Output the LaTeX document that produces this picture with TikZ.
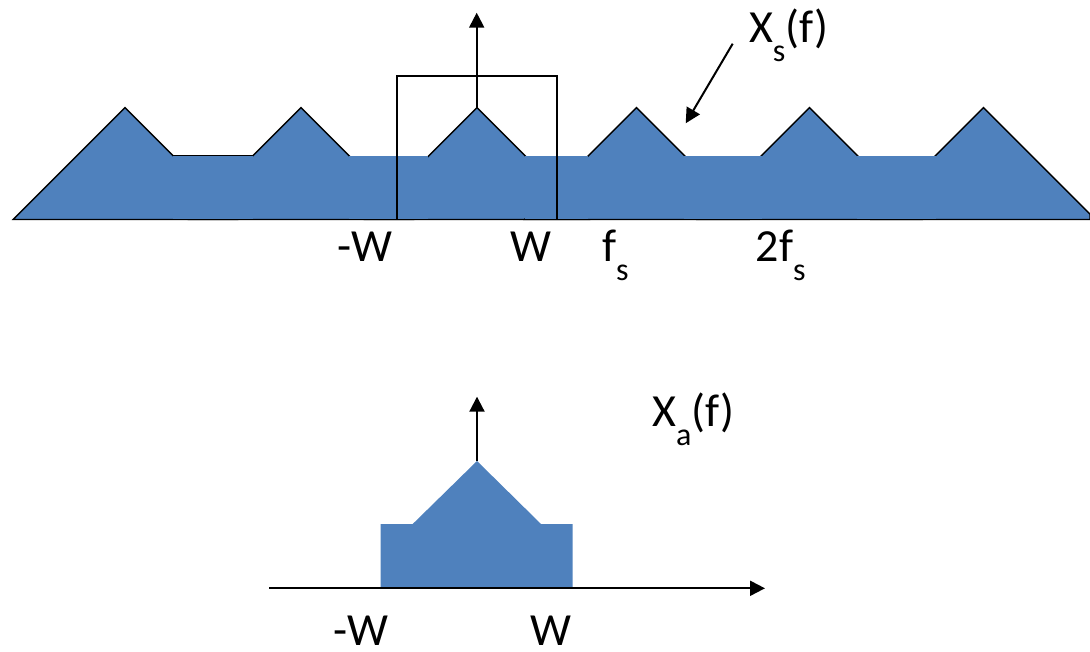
\documentclass[tikz,border=0pt]{standalone}
\usepackage{fontspec}
\setmainfont{Carlito}
\usetikzlibrary{arrows.meta}
\definecolor{specblue}{HTML}{4F81BD}
\tikzset{
  tri/.style={fill=specblue,draw=black,line width=1.4pt,line join=miter},
  band/.style={fill=specblue,draw=none},
  lbl/.style={inner sep=0pt,outer sep=0pt,anchor=base west,font=\fontsize{46}{46}\selectfont},
  axisarrow/.style={draw=black,line width=2pt,-{Triangle[width=15pt,length=15pt]}},
  frame/.style={draw=black,line width=2pt}
}
\newcommand{\subs}[1]{\raisebox{-0.4em}{\fontsize{32}{32}\selectfont #1}}
\begin{document}
\begin{tikzpicture}[x=1pt,y=-1pt]
\useasboundingbox (0,0) rectangle (1090,652);
% ---- top spectrum: triangles
\foreach \p in {125,301,477,636.5,809.5}{
  \filldraw[tri] (\p-111.8,219.5) -- (\p,107.7) -- (\p+111.8,219.5) -- cycle;
}
\filldraw[tri] (871.7,219.5) -- (983.5,107.7) -- (1090,214.2) -- (1090,219.5) -- cycle;
% ---- bands between triangles
\foreach \a/\b in {172.7/253,349/428.3,525/588.3,684/761.7,856.7/935.7}{
  \fill[band] (\a,155.7) rectangle (\b,219.5);
}
\draw[line width=0.9pt] (172.7,155.7) -- (253,155.7);
% baseline
\coordinate (bl) at (13,219.5);
\coordinate (br) at (1090,219.5);
\draw[line width=0.9pt] (bl) -- (br);
% filter box
\coordinate (b1) at (397.3,220);
\coordinate (b2) at (397.3,76);
\coordinate (b3) at (557,76);
\coordinate (b4) at (557,220);
\draw[frame] (b1) -- (b2) -- (b3) -- (b4);
% vertical axis
\coordinate (tpk) at (476.7,107.7);
\coordinate (ttop) at (476.7,12.7);
\draw[axisarrow] (tpk) -- (ttop);
% labels top
\node[lbl] (mw) at (337,261.7) {-W};
\node[lbl] (w) at (510.7,261.7) {W};
\node[lbl] (fs) at (602,261.7) {f\subs{s}};
\node[lbl] (tfs) at (755.7,261.7) {2f\subs{s}};
\node[lbl] (xs) at (749,43) {X\subs{s}(f)};
\coordinate (xsa) at (732.7,43.7);
\coordinate (xsb) at (685.7,123.3);
\draw[axisarrow] (xsa) -- (xsb);
% ---- bottom spectrum
\fill[band] (380.7,588.3) -- (380.7,524) -- (412.7,524) -- (477,461) -- (541,524) -- (572.7,524) -- (572.7,588.3) -- cycle;
\coordinate (al) at (269.3,588.3);
\coordinate (ar) at (765,588.3);
\draw[axisarrow] (al) -- (ar);
\coordinate (bpk) at (477,461);
\coordinate (btop) at (477,396.7);
\draw[axisarrow] (bpk) -- (btop);
\node[lbl] (xa) at (652.3,426.7) {X\subs{a}(f)};
\node[lbl] (bmw) at (333,645.6) {-W};
\node[lbl] (bw) at (530.7,645.6) {W};
\end{tikzpicture}
\end{document}
